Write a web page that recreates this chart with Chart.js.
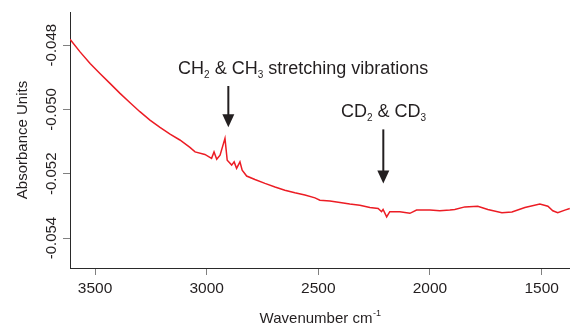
<!DOCTYPE html>
<html>
<head>
<meta charset="utf-8">
<script src="https://cdn.jsdelivr.net/npm/chart.js@4"></script>
<style>
html,body{margin:0;padding:0;background:#fff;}
#wrap{width:570px;height:327px;position:relative;}
</style>
</head>
<body>
<div id="wrap"><canvas id="c"></canvas></div>
<script>
const wavenumbers = [3612,3567,3522,3478,3433,3388,3343,3299,3254,3209,3164,3120,3075,3052,3008,2978,2967,2955,2940,2918,2908,2888,2877,2866,2851,2841,2821,2784,2739,2694,2650,2605,2560,2515,2493,2448,2403,2359,2314,2269,2232,2217,2210,2194,2180,2135,2090,2060,2000,1956,1911,1889,1844,1786,1741,1678,1633,1575,1508,1472,1450,1428,1396,1374];
const absorbance = [-0.04782,-0.04821,-0.04857,-0.04888,-0.04919,-0.04950,-0.04979,-0.05007,-0.05033,-0.05056,-0.05077,-0.05095,-0.05118,-0.05132,-0.05140,-0.05152,-0.05132,-0.05155,-0.05142,-0.05090,-0.05158,-0.05173,-0.05163,-0.05183,-0.05163,-0.05189,-0.05207,-0.05218,-0.05230,-0.05241,-0.05251,-0.05259,-0.05266,-0.05275,-0.05282,-0.05285,-0.05289,-0.05294,-0.05298,-0.05305,-0.05308,-0.05318,-0.05311,-0.05334,-0.05318,-0.05318,-0.05323,-0.05313,-0.05313,-0.05315,-0.05313,-0.05311,-0.05303,-0.05301,-0.05311,-0.05321,-0.05319,-0.05305,-0.05294,-0.05301,-0.05315,-0.05321,-0.05313,-0.05308];
const xTicks = [3500,3000,2500,2000,1500];
const yTicks = [-0.054,-0.052,-0.050,-0.048];
const xTitle = ["Wavenumber cm", "-1"];
const yTitle = "Absorbance Units";
const annotations = [
  {parts:[["CH",0],["2",1],[" & CH",0],["3",1],[" stretching vibrations",0]], textX:3128, textY:-0.04891, arrowX:2903, arrowTop:-0.04927, arrowTip:-0.05055},
  {parts:[["CD",0],["2",1],[" & CD",0],["3",1]], textX:2399, textY:-0.05024, arrowX:2209, arrowTop:-0.05062, arrowTip:-0.05230}
];

const FONT = "'Liberation Sans', Arial, sans-serif";
const TEXT = '#231f20';

const annoPlugin = {
  id: 'anno',
  afterDraw(chart) {
    const ctx = chart.ctx, xs = chart.scales.x, ys = chart.scales.y;
    ctx.save();
    ctx.fillStyle = TEXT;
    ctx.strokeStyle = TEXT;
    ctx.textBaseline = 'alphabetic';
    ctx.textAlign = 'left';
    annotations.forEach(a => {
      let x = xs.getPixelForValue(a.textX);
      const y = ys.getPixelForValue(a.textY);
      a.parts.forEach(([t, sub]) => {
        ctx.font = (sub ? '10px ' : '18px ') + FONT;
        ctx.fillText(t, x, sub ? y + 3.5 : y);
        x += ctx.measureText(t).width;
      });
      const ax = xs.getPixelForValue(a.arrowX);
      const top = ys.getPixelForValue(a.arrowTop);
      const tip = ys.getPixelForValue(a.arrowTip);
      ctx.lineWidth = 2;
      ctx.beginPath();
      ctx.moveTo(ax, top);
      ctx.lineTo(ax, tip - 10);
      ctx.stroke();
      ctx.beginPath();
      ctx.moveTo(ax - 6, tip - 13);
      ctx.lineTo(ax + 6, tip - 13);
      ctx.lineTo(ax, tip);
      ctx.closePath();
      ctx.fill();
    });
    // x axis title with superscript, centred under the plot area
    ctx.font = '15px ' + FONT;
    const w1 = ctx.measureText(xTitle[0]).width;
    ctx.font = '9px ' + FONT;
    const w2 = ctx.measureText(xTitle[1]).width;
    const cx = (chart.chartArea.left + chart.chartArea.right) / 2;
    const sx = cx - (w1 + w2) / 2;
    ctx.font = '15px ' + FONT;
    ctx.fillText(xTitle[0], sx, 323);
    ctx.font = '9px ' + FONT;
    ctx.fillText(xTitle[1], sx + w1 + 0.5, 316);
    ctx.restore();
  }
};

new Chart(document.getElementById('c'), {
  type: 'line',
  data: {
    datasets: [{
      data: wavenumbers.map((w, i) => ({x: w, y: absorbance[i]})),
      borderColor: '#ec1c24',
      borderWidth: 1.5,
      pointRadius: 0,
      tension: 0,
      fill: false
    }]
  },
  options: {
    responsive: true,
    maintainAspectRatio: false,
    animation: false,
    layout: {padding: {top: 12, right: 0, left: 0, bottom: 0}},
    plugins: {legend: {display: false}, tooltip: {enabled: false}},
    scales: {
      x: {
        type: 'linear',
        reverse: true,
        min: 1373,
        max: 3612,
        afterBuildTicks: s => { s.ticks = xTicks.map(v => ({value: v})); },
        afterFit: s => { s.height = 59; },
        grid: {drawOnChartArea: false, drawTicks: true, tickLength: 7, color: '#808080', lineWidth: 1},
        border: {display: true, color: '#2a2a2a', width: 1},
        ticks: {color: TEXT, font: {family: FONT, size: 15.5}, padding: 4, maxRotation: 0, minRotation: 0,
                callback: v => String(v)}
      },
      y: {
        type: 'linear',
        min: -0.05493,
        max: -0.04697,
        afterBuildTicks: s => { s.ticks = yTicks.map(v => ({value: v})); },
        afterFit: s => { s.width = 70; },
        grid: {drawOnChartArea: false, drawTicks: true, tickLength: 7, color: '#808080', lineWidth: 1},
        border: {display: true, color: '#2a2a2a', width: 1},
        ticks: {color: TEXT, font: {family: FONT, size: 15}, minRotation: 90, maxRotation: 90,
                crossAlign: 'center', padding: -10.5,
                callback: v => v.toFixed(3)},
        title: {display: true, text: yTitle, color: TEXT, font: {family: FONT, size: 15}, padding: {top: 14, bottom: 0}}
      }
    }
  },
  plugins: [annoPlugin]
});
</script>
</body>
</html>
